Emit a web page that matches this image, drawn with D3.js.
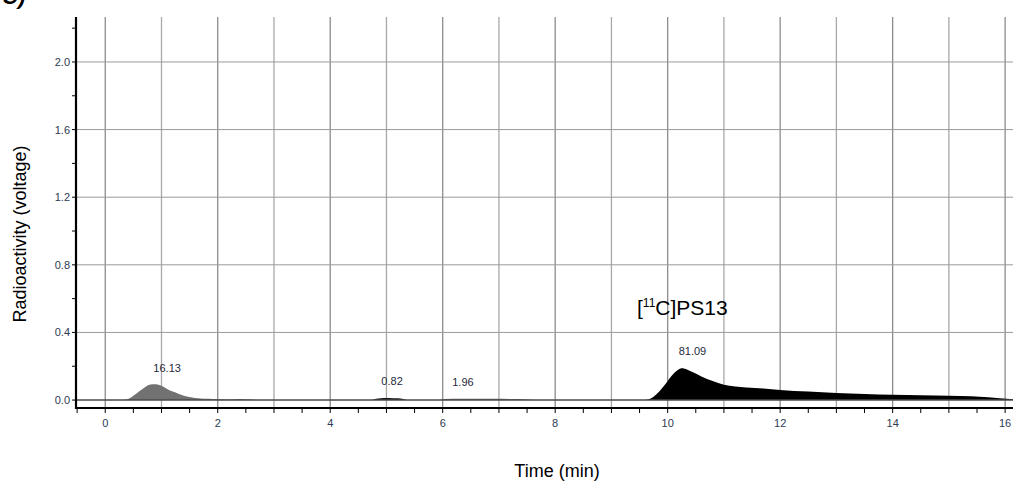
<!DOCTYPE html>
<html>
<head>
<meta charset="utf-8">
<script src="https://cdn.jsdelivr.net/npm/d3@7/dist/d3.min.js"></script>
<style>
  html, body { margin: 0; padding: 0; background: #fff; }
  svg { display: block; }
</style>
</head>
<body>
<svg id="chart" width="1013" height="482"></svg>
<script>
// ---- data ----
const xTicks = [0, 2, 4, 6, 8, 10, 12, 14, 16];
const yTicks = [0.0, 0.4, 0.8, 1.2, 1.6, 2.0];

// first (grey) peak, time (min) / voltage
const peak1Time  = [0.30, 0.40, 0.50, 0.60, 0.70, 0.80, 0.90, 1.00, 1.10, 1.20, 1.30, 1.40, 1.50, 1.60, 1.70, 1.80, 1.90, 2.00, 2.20, 2.40, 2.60, 2.70];
const peak1Value = [0.000, 0.005, 0.025, 0.050, 0.075, 0.092, 0.094, 0.085, 0.066, 0.050, 0.038, 0.026, 0.018, 0.012, 0.009, 0.007, 0.006, 0.005, 0.004, 0.006, 0.003, 0.000];

// small peak near 5 min
const peak2Time  = [4.75, 4.82, 4.90, 5.00, 5.10, 5.20, 5.30, 5.36];
const peak2Value = [0.000, 0.008, 0.011, 0.012, 0.011, 0.010, 0.006, 0.000];

// small hump 6 - 7.6 min
const peak3Time  = [5.95, 6.05, 6.30, 6.60, 6.90, 7.20, 7.50, 7.65];
const peak3Value = [0.000, 0.006, 0.008, 0.008, 0.007, 0.006, 0.004, 0.000];

// main peak [11C]PS13
const peak4Time  = [9.55, 9.65, 9.75, 9.85, 9.95, 10.05, 10.15, 10.25, 10.35, 10.45, 10.60, 10.80, 11.00, 11.20, 11.40, 11.70, 12.00, 12.50, 13.00, 13.50, 14.00, 14.50, 15.00, 15.40, 15.70, 15.90, 16.14];
const peak4Value = [0.000, 0.004, 0.020, 0.050, 0.090, 0.135, 0.170, 0.188, 0.180, 0.165, 0.140, 0.112, 0.090, 0.080, 0.074, 0.068, 0.060, 0.050, 0.042, 0.036, 0.031, 0.028, 0.025, 0.022, 0.016, 0.010, 0.005];

// peak area labels: text, time, voltage
const labelText  = ["16.13", "0.82", "1.96", "81.09"];
const labelTime  = [1.10, 5.10, 6.36, 10.44];
const labelValue = [0.166, 0.089, 0.083, 0.266];

// ---- chart ----
const svg = d3.select("#chart");
const mLeft = 76, mRight = 1013, mTop = 17, mBottom = 408;

const x = d3.scaleLinear().domain([-0.52, 16.14]).range([mLeft, mRight]);
const y = d3.scaleLinear().domain([-0.047, 2.266]).range([mBottom, mTop]);

const tickColor = "#2d3a52";
const gridColor = "#9a9a9a";
const smallFont = "Liberation Sans, Arial, sans-serif";

// vertical grid every minute
const vGrid = d3.range(0, 17, 1);
svg.append("g").selectAll("line").data(vGrid).join("line")
  .attr("x1", d => x(d)).attr("x2", d => x(d))
  .attr("y1", mTop).attr("y2", mBottom)
  .attr("stroke", (d, i) => i % 2 ? "#a8a8a8" : "#8c8c8c")
  .attr("stroke-width", 1.3);

// horizontal grid
svg.append("g").selectAll("line").data(yTicks.filter(d => d > 0)).join("line")
  .attr("x1", mLeft).attr("x2", mRight)
  .attr("y1", d => y(d)).attr("y2", d => y(d))
  .attr("stroke", gridColor).attr("stroke-width", 1);

// areas
const area = (t, v) => d3.area()
  .x((d, i) => x(t[i]))
  .y0(y(0))
  .y1((d, i) => y(v[i]))
  .curve(d3.curveMonotoneX)(v);

svg.append("path").attr("d", area(peak1Time, peak1Value)).attr("fill", "#727272");
svg.append("path").attr("d", area(peak2Time, peak2Value)).attr("fill", "#111");
svg.append("path").attr("d", area(peak3Time, peak3Value)).attr("fill", "#666");
svg.append("path").attr("d", area(peak4Time, peak4Value)).attr("fill", "#000");

// baseline (0.0)
svg.append("line")
  .attr("x1", mLeft).attr("x2", mRight)
  .attr("y1", y(0)).attr("y2", y(0))
  .attr("stroke", "#4a4a4a").attr("stroke-width", 1.5);

// y axis
const yMinor = d3.range(0, 2.21, 0.2);
svg.append("g").selectAll("line").data(yMinor).join("line")
  .attr("x1", mLeft - 4).attr("x2", mLeft)
  .attr("y1", d => y(d)).attr("y2", d => y(d))
  .attr("stroke", "#000").attr("stroke-width", 1);
svg.append("g").selectAll("text").data(yTicks).join("text")
  .attr("x", mLeft - 6).attr("y", d => y(d) + 4)
  .attr("text-anchor", "end")
  .attr("font-family", smallFont).attr("font-size", 11)
  .attr("fill", tickColor)
  .text(d => d.toFixed(1));
svg.append("line")
  .attr("x1", mLeft).attr("x2", mLeft).attr("y1", mTop).attr("y2", mBottom + 1)
  .attr("stroke", "#000").attr("stroke-width", 2.2);

// x axis
const xMinor = d3.range(-0.5, 16.01, 0.5);
svg.append("g").selectAll("line").data(xMinor).join("line")
  .attr("x1", d => x(d)).attr("x2", d => x(d))
  .attr("y1", mBottom).attr("y2", mBottom + 5)
  .attr("stroke", "#000").attr("stroke-width", 1);
svg.append("g").selectAll("text").data(xTicks).join("text")
  .attr("x", d => x(d)).attr("y", mBottom + 19)
  .attr("text-anchor", "middle")
  .attr("font-family", smallFont).attr("font-size", 11)
  .attr("fill", tickColor)
  .text(d => d);
svg.append("line")
  .attr("x1", mLeft).attr("x2", mRight).attr("y1", mBottom).attr("y2", mBottom)
  .attr("stroke", "#000").attr("stroke-width", 2.2);

// peak labels
svg.append("g").selectAll("text").data(labelText).join("text")
  .attr("x", (d, i) => x(labelTime[i]))
  .attr("y", (d, i) => y(labelValue[i]))
  .attr("text-anchor", "middle")
  .attr("font-family", smallFont).attr("font-size", 11)
  .attr("fill", "#1e2a3c")
  .text(d => d);

// compound label
const comp = svg.append("text")
  .attr("x", 637).attr("y", 315)
  .attr("font-family", "Liberation Sans, Arial, sans-serif").attr("font-size", 21)
  .attr("fill", "#000");
comp.append("tspan").text("[");
comp.append("tspan").attr("font-size", 12).attr("dy", -8).text("11");
comp.append("tspan").attr("dy", 8).text("C]PS13");

// axis titles
svg.append("text")
  .attr("transform", "translate(26,234) rotate(-90)")
  .attr("text-anchor", "middle")
  .attr("font-family", "Liberation Sans, Arial, sans-serif").attr("font-size", 18)
  .attr("fill", "#000")
  .text("Radioactivity (voltage)");
svg.append("text")
  .attr("x", 557).attr("y", 477)
  .attr("text-anchor", "middle")
  .attr("font-family", "Liberation Sans, Arial, sans-serif").attr("font-size", 18)
  .attr("fill", "#000")
  .text("Time (min)");

// panel letter (cut off at top, as in the reference)
svg.append("text")
  .attr("x", 2).attr("y", 4)
  .attr("font-family", "Liberation Sans, Arial, sans-serif").attr("font-size", 22)
  .attr("font-weight", "bold").attr("font-style", "italic")
  .attr("fill", "#000")
  .text("C)");
</script>
</body>
</html>
